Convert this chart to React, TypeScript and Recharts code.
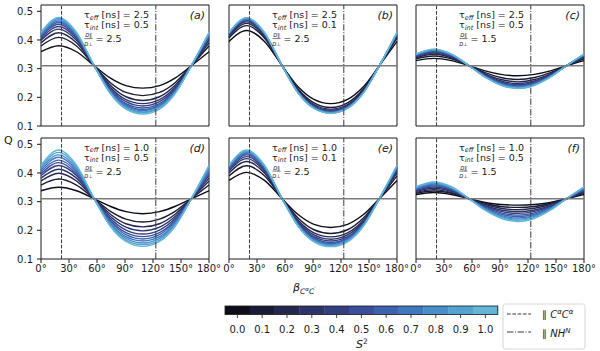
import { LineChart, Line, XAxis, YAxis, ReferenceLine, ReferenceArea } from "recharts"

// beta angle samples (degrees) shared by all panels
const angles = [0, 19, 38, 57, 74, 91, 109, 127, 144, 161, 180]

const s2Levels = ["0.0", "0.1", "0.2", "0.3", "0.4", "0.5", "0.6", "0.7", "0.8", "0.9", "1.0"]
const s2Colors = [
  "#0d0d1a", "#191c35", "#24284e", "#2d3468", "#343f82", "#3a4f9b",
  "#3d63b0", "#4078bf", "#488ec9", "#53a3d2", "#62b6da",
]

// Q vs beta, one row per S^2 level (0.0 ... 1.0)
const panelA = [
  [0.359, 0.380, 0.359, 0.31, 0.268, 0.241, 0.232, 0.241, 0.268, 0.31, 0.359],
  [0.379, 0.409, 0.379, 0.31, 0.252, 0.217, 0.206, 0.217, 0.252, 0.31, 0.379],
  [0.390, 0.425, 0.390, 0.31, 0.243, 0.202, 0.189, 0.202, 0.243, 0.31, 0.390],
  [0.399, 0.438, 0.399, 0.31, 0.236, 0.192, 0.178, 0.192, 0.236, 0.31, 0.399],
  [0.405, 0.447, 0.405, 0.31, 0.231, 0.185, 0.170, 0.185, 0.231, 0.31, 0.405],
  [0.410, 0.455, 0.410, 0.31, 0.227, 0.178, 0.163, 0.178, 0.227, 0.31, 0.410],
  [0.414, 0.461, 0.414, 0.31, 0.224, 0.174, 0.158, 0.174, 0.224, 0.31, 0.414],
  [0.418, 0.466, 0.418, 0.31, 0.221, 0.170, 0.154, 0.170, 0.221, 0.31, 0.418],
  [0.421, 0.471, 0.421, 0.31, 0.218, 0.166, 0.149, 0.166, 0.218, 0.31, 0.421],
  [0.424, 0.475, 0.424, 0.31, 0.217, 0.163, 0.146, 0.163, 0.217, 0.31, 0.424],
  [0.427, 0.479, 0.427, 0.31, 0.214, 0.159, 0.142, 0.159, 0.214, 0.31, 0.427],
]

const panelB = [
  [0.395, 0.433, 0.395, 0.31, 0.237, 0.193, 0.178, 0.193, 0.237, 0.31, 0.395],
  [0.407, 0.450, 0.407, 0.31, 0.229, 0.181, 0.165, 0.181, 0.229, 0.31, 0.407],
  [0.412, 0.458, 0.412, 0.31, 0.225, 0.175, 0.159, 0.175, 0.225, 0.31, 0.412],
  [0.416, 0.463, 0.416, 0.31, 0.222, 0.171, 0.155, 0.171, 0.222, 0.31, 0.416],
  [0.419, 0.467, 0.419, 0.31, 0.220, 0.168, 0.152, 0.168, 0.220, 0.31, 0.419],
  [0.421, 0.470, 0.421, 0.31, 0.219, 0.167, 0.150, 0.167, 0.219, 0.31, 0.421],
  [0.422, 0.472, 0.422, 0.31, 0.218, 0.165, 0.148, 0.165, 0.218, 0.31, 0.422],
  [0.423, 0.474, 0.423, 0.31, 0.217, 0.164, 0.147, 0.164, 0.217, 0.31, 0.423],
  [0.425, 0.476, 0.425, 0.31, 0.216, 0.163, 0.146, 0.163, 0.216, 0.31, 0.425],
  [0.425, 0.477, 0.425, 0.31, 0.216, 0.162, 0.145, 0.162, 0.216, 0.31, 0.425],
  [0.426, 0.478, 0.426, 0.31, 0.215, 0.161, 0.144, 0.161, 0.215, 0.31, 0.426],
]

const panelC = [
  [0.328, 0.336, 0.328, 0.31, 0.292, 0.280, 0.275, 0.280, 0.292, 0.31, 0.328],
  [0.334, 0.344, 0.334, 0.31, 0.286, 0.269, 0.262, 0.269, 0.286, 0.31, 0.334],
  [0.338, 0.350, 0.338, 0.31, 0.282, 0.262, 0.254, 0.262, 0.282, 0.31, 0.338],
  [0.341, 0.354, 0.341, 0.31, 0.279, 0.257, 0.248, 0.257, 0.279, 0.31, 0.341],
  [0.343, 0.357, 0.343, 0.31, 0.277, 0.253, 0.244, 0.253, 0.277, 0.31, 0.343],
  [0.346, 0.360, 0.346, 0.31, 0.275, 0.250, 0.240, 0.250, 0.275, 0.31, 0.346],
  [0.347, 0.362, 0.347, 0.31, 0.274, 0.248, 0.238, 0.248, 0.274, 0.31, 0.347],
  [0.348, 0.364, 0.348, 0.31, 0.273, 0.246, 0.236, 0.246, 0.273, 0.31, 0.348],
  [0.350, 0.366, 0.350, 0.31, 0.272, 0.244, 0.234, 0.244, 0.272, 0.31, 0.350],
  [0.350, 0.367, 0.350, 0.31, 0.271, 0.243, 0.232, 0.243, 0.271, 0.31, 0.350],
  [0.351, 0.368, 0.351, 0.31, 0.270, 0.242, 0.231, 0.242, 0.270, 0.31, 0.351],
]

const panelD = [
  [0.338, 0.350, 0.338, 0.31, 0.284, 0.265, 0.258, 0.265, 0.284, 0.31, 0.338],
  [0.358, 0.379, 0.358, 0.31, 0.267, 0.239, 0.229, 0.239, 0.267, 0.31, 0.358],
  [0.372, 0.399, 0.372, 0.31, 0.257, 0.223, 0.212, 0.223, 0.257, 0.31, 0.372],
  [0.382, 0.413, 0.382, 0.31, 0.249, 0.211, 0.198, 0.211, 0.249, 0.31, 0.382],
  [0.391, 0.426, 0.391, 0.31, 0.242, 0.201, 0.187, 0.201, 0.242, 0.31, 0.391],
  [0.397, 0.436, 0.397, 0.31, 0.236, 0.192, 0.178, 0.192, 0.236, 0.31, 0.397],
  [0.404, 0.445, 0.404, 0.31, 0.232, 0.185, 0.170, 0.185, 0.232, 0.31, 0.404],
  [0.410, 0.455, 0.410, 0.31, 0.227, 0.178, 0.163, 0.178, 0.227, 0.31, 0.410],
  [0.416, 0.463, 0.416, 0.31, 0.223, 0.172, 0.156, 0.172, 0.223, 0.31, 0.416],
  [0.422, 0.472, 0.422, 0.31, 0.218, 0.166, 0.150, 0.166, 0.218, 0.31, 0.422],
  [0.427, 0.480, 0.427, 0.31, 0.215, 0.161, 0.144, 0.161, 0.215, 0.31, 0.427],
]

const panelE = [
  [0.374, 0.402, 0.374, 0.31, 0.255, 0.221, 0.210, 0.221, 0.255, 0.31, 0.374],
  [0.390, 0.425, 0.390, 0.31, 0.243, 0.202, 0.189, 0.202, 0.243, 0.31, 0.390],
  [0.400, 0.440, 0.400, 0.31, 0.235, 0.191, 0.177, 0.191, 0.235, 0.31, 0.400],
  [0.407, 0.450, 0.407, 0.31, 0.230, 0.184, 0.169, 0.184, 0.230, 0.31, 0.407],
  [0.412, 0.457, 0.412, 0.31, 0.226, 0.178, 0.163, 0.178, 0.226, 0.31, 0.412],
  [0.416, 0.463, 0.416, 0.31, 0.223, 0.174, 0.158, 0.174, 0.223, 0.31, 0.416],
  [0.418, 0.467, 0.418, 0.31, 0.221, 0.170, 0.154, 0.170, 0.221, 0.31, 0.418],
  [0.421, 0.471, 0.421, 0.31, 0.219, 0.167, 0.151, 0.167, 0.219, 0.31, 0.421],
  [0.423, 0.474, 0.423, 0.31, 0.217, 0.165, 0.148, 0.165, 0.217, 0.31, 0.423],
  [0.425, 0.477, 0.425, 0.31, 0.216, 0.162, 0.145, 0.162, 0.216, 0.31, 0.425],
  [0.427, 0.480, 0.427, 0.31, 0.214, 0.160, 0.143, 0.160, 0.214, 0.31, 0.427],
]

const panelF = [
  [0.325, 0.332, 0.325, 0.31, 0.297, 0.290, 0.288, 0.290, 0.297, 0.31, 0.325],
  [0.329, 0.337, 0.329, 0.31, 0.294, 0.283, 0.280, 0.283, 0.294, 0.31, 0.329],
  [0.332, 0.342, 0.332, 0.31, 0.290, 0.277, 0.272, 0.277, 0.290, 0.31, 0.332],
  [0.336, 0.347, 0.336, 0.31, 0.286, 0.271, 0.265, 0.271, 0.286, 0.31, 0.336],
  [0.339, 0.351, 0.339, 0.31, 0.284, 0.266, 0.259, 0.266, 0.284, 0.31, 0.339],
  [0.342, 0.355, 0.342, 0.31, 0.281, 0.261, 0.253, 0.261, 0.281, 0.31, 0.342],
  [0.344, 0.358, 0.344, 0.31, 0.278, 0.256, 0.248, 0.256, 0.278, 0.31, 0.344],
  [0.346, 0.361, 0.346, 0.31, 0.276, 0.252, 0.243, 0.252, 0.276, 0.31, 0.346],
  [0.348, 0.364, 0.348, 0.31, 0.274, 0.249, 0.239, 0.249, 0.274, 0.31, 0.348],
  [0.350, 0.367, 0.350, 0.31, 0.272, 0.245, 0.235, 0.245, 0.272, 0.31, 0.350],
  [0.352, 0.369, 0.352, 0.31, 0.270, 0.242, 0.231, 0.242, 0.270, 0.31, 0.352],
]

const panels = [panelA, panelB, panelC, panelD, panelE, panelF]
const panelTags = ["a", "b", "c", "d", "e", "f"]
const tauEff = ["2.5", "2.5", "2.5", "1.0", "1.0", "1.0"]
const tauInt = ["0.5", "0.1", "0.5", "0.5", "0.1", "0.5"]
const dRatio = ["2.5", "2.5", "1.5", "2.5", "2.5", "1.5"]

const xTicks = [0, 30, 60, 90, 120, 150, 180]
const yTicks = [0.1, 0.2, 0.3, 0.4, 0.5]
const qRef = 0.31
const ccAngle = 22
const nhAngle = 123

const FONT = "DejaVu Sans"
const colLeft = [41, 229, 416]
const rowTop = [5, 137.5]
const PW = 168
const PH = 121
const YW = 40
const RM = 16

function Panel({ series, col, row }: { series: number[][]; col: number; row: number }) {
  const data = angles.map((a, i) => {
    const o: Record<string, number> = { beta: a }
    series.forEach((s, k) => (o["s" + k] = s[i]))
    return o
  })
  const tickStyle = { fill: "#1a1a1a", fontSize: 10, fontFamily: FONT }
  return (
    <div style={{ position: "absolute", left: colLeft[col] - YW, top: rowTop[row] - 5 }}>
      <LineChart width={YW + PW + RM} height={5 + PH + 25} data={data} margin={{ top: 5, right: RM, left: 0, bottom: 0 }}>
        <XAxis
          dataKey="beta"
          type="number"
          domain={[0, 180]}
          ticks={xTicks}
          interval={0}
          height={25}
          axisLine={false}
          tickLine={row === 1 ? { stroke: "#1a1a1a" } : false}
          tick={row === 1 ? tickStyle : false}
          tickSize={4}
          tickMargin={2}
          tickFormatter={(v: number) => `${v}°`}
        />
        <YAxis
          type="number"
          domain={[0.1, 0.522]}
          allowDataOverflow
          ticks={yTicks}
          width={YW}
          axisLine={false}
          tickLine={col === 0 ? { stroke: "#1a1a1a" } : false}
          tick={col === 0 ? tickStyle : false}
          tickSize={4}
          tickMargin={4}
          tickFormatter={(v: number) => v.toFixed(1)}
        />
        {series.map((_, k) => (
          <Line
            key={k}
            dataKey={"s" + k}
            type="monotone"
            stroke={s2Colors[k]}
            strokeWidth={1.4}
            dot={false}
            isAnimationActive={false}
          />
        ))}
        <ReferenceLine y={qRef} stroke="#7a7a7a" strokeWidth={1.5} />
        <ReferenceLine x={ccAngle} stroke="#3a3a3a" strokeWidth={1} strokeDasharray="3.7 1.6" />
        <ReferenceLine x={nhAngle} stroke="#3a3a3a" strokeWidth={1} strokeDasharray="6.4 1.6 1 1.6" />
        <ReferenceArea x1={0} x2={180} y1={0.1} y2={0.522} fill="none" stroke="#1a1a1a" strokeWidth={1} ifOverflow="visible" />
      </LineChart>
    </div>
  )
}

function Annotation({ idx }: { idx: number }) {
  const col = idx % 3
  const row = Math.floor(idx / 3)
  const x0 = colLeft[col] + 43
  const y0 = rowTop[row]
  const fx = x0 + 4.5
  return (
    <g fontFamily={FONT} fill="#1a1a1a">
      <text x={x0} y={y0 + 13} fontSize={9.5}>
        τ<tspan fontSize={6.5} fontStyle="italic" dy={1.5}>eff</tspan>
        <tspan dy={-1.5}> [ns] = {tauEff[idx]}</tspan>
      </text>
      <text x={x0} y={y0 + 23} fontSize={9.5}>
        τ<tspan fontSize={6.5} fontStyle="italic" dy={1.5}>int</tspan>
        <tspan dy={-1.5}> [ns] = {tauInt[idx]}</tspan>
      </text>
      <text x={fx} y={y0 + 32} fontSize={5.2} textAnchor="middle">
        <tspan fontStyle="italic">D</tspan>∥
      </text>
      <line x1={fx - 4} x2={fx + 4} y1={y0 + 33.6} y2={y0 + 33.6} stroke="#1a1a1a" strokeWidth={0.6} />
      <text x={fx} y={y0 + 40.5} fontSize={5.2} textAnchor="middle">
        <tspan fontStyle="italic">D</tspan>⊥
      </text>
      <text x={x0 + 11.5} y={y0 + 37} fontSize={9.5}>= {dRatio[idx]}</text>
      <text x={colLeft[col] + PW - 4} y={y0 + 14} fontSize={11} fontStyle="italic" textAnchor="end">
        ({panelTags[idx]})
      </text>
    </g>
  )
}

const cbLeft = 225
const cbTop = 306
const cbSeg = 24.8
const cbH = 8.5

export default function App() {
  return (
    <div style={{ position: "absolute", left: 0, top: 0, width: 600, height: 351, background: "#fff", fontFamily: FONT, overflow: "hidden" }}>
      {panels.map((p, i) => (
        <Panel key={i} series={p} col={i % 3} row={Math.floor(i / 3)} />
      ))}
      <svg width={600} height={351} style={{ position: "absolute", left: 0, top: 0, pointerEvents: "none" }}>
        {panels.map((_, i) => (
          <Annotation key={i} idx={i} />
        ))}
        <text x={4} y={144} fontSize={11} fontFamily={FONT} fill="#1a1a1a">Q</text>
        <text x={293} y={291} fontSize={11} fontFamily={FONT} fill="#1a1a1a" fontStyle="italic">
          β<tspan fontSize={7.5} dy={3}>C</tspan>
          <tspan fontSize={5.5} dy={-3}>α</tspan>
          <tspan fontSize={7.5} dy={3}>C</tspan>
          <tspan fontSize={6} dy={-3}>′</tspan>
        </text>
        {s2Colors.map((c, k) => (
          <rect key={k} x={cbLeft + k * cbSeg} y={cbTop} width={cbSeg + 0.3} height={cbH} fill={c} />
        ))}
        <rect x={cbLeft} y={cbTop} width={cbSeg * 11} height={cbH} fill="none" stroke="#1a1a1a" strokeWidth={0.8} />
        {s2Levels.map((s, k) => (
          <g key={s}>
            <line x1={cbLeft + (k + 0.5) * cbSeg} x2={cbLeft + (k + 0.5) * cbSeg} y1={cbTop + cbH} y2={cbTop + cbH + 3.5} stroke="#1a1a1a" strokeWidth={0.8} />
            <text x={cbLeft + (k + 0.5) * cbSeg} y={333} fontSize={10} fontFamily={FONT} fill="#1a1a1a" textAnchor="middle">
              {s}
            </text>
          </g>
        ))}
        <text x={356} y={348} fontSize={11} fontFamily={FONT} fill="#1a1a1a" fontStyle="italic">
          S<tspan fontSize={7.5} fontStyle="normal" dy={-4}>2</tspan>
        </text>
        <rect x={503} y={304} width={82} height={45} rx={2.5} fill="#fff" stroke="#cccccc" strokeWidth={0.8} />
        <line x1={507} x2={531} y1={314} y2={314} stroke="#3a3a3a" strokeWidth={1} strokeDasharray="3.7 1.6" />
        <line x1={507} x2={531} y1={332} y2={332} stroke="#3a3a3a" strokeWidth={1} strokeDasharray="6.4 1.6 1 1.6" />
        <text x={542} y={318} fontSize={10} fontFamily={FONT} fill="#1a1a1a">
          ∥ <tspan fontStyle="italic">C</tspan>
          <tspan fontSize={7} fontStyle="italic" dy={-4}>α</tspan>
          <tspan fontStyle="italic" dy={4}>C</tspan>
          <tspan fontSize={7} fontStyle="italic" dy={-4}>α</tspan>
        </text>
        <text x={542} y={337} fontSize={10} fontFamily={FONT} fill="#1a1a1a">
          ∥ <tspan fontStyle="italic">NH</tspan>
          <tspan fontSize={7} fontStyle="italic" dy={-4}>N</tspan>
        </text>
      </svg>
    </div>
  )
}
